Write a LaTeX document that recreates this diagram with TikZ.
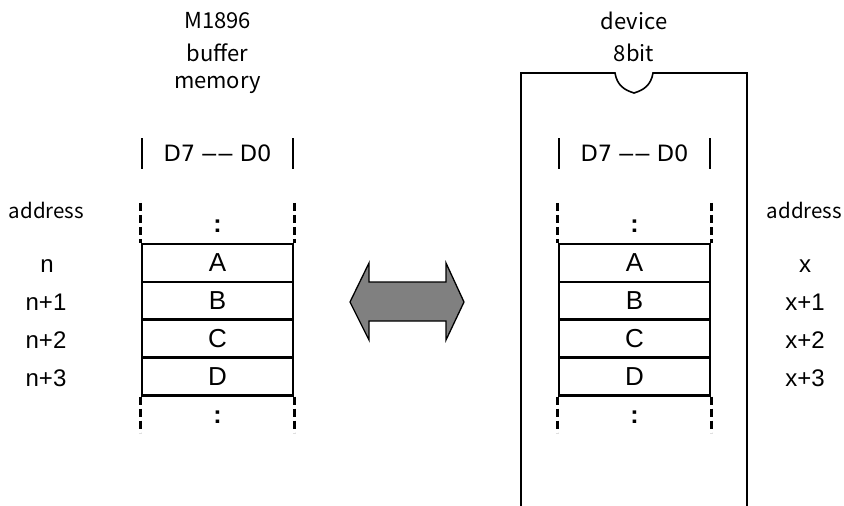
\documentclass[tikz,border=0pt]{standalone}
\usepackage{fontspec}
\setmainfont{Liberation Sans}
\newfontfamily\jpfont{Noto Sans CJK JP}
\newfontfamily\dvfont{DejaVu Sans}
\newcommand{\ddash}{{\rmfamily\fontsize{25}{25}\selectfont\char"2013\hspace{2.5pt}\char"2013}}
\begin{document}
\begin{tikzpicture}[x=1pt,y=-1pt,
  cell/.style={draw,line width=2.6pt,minimum width=151pt,minimum height=37.8pt,inner sep=0pt,font=\fontsize{26}{26}\selectfont},
  lbl/.style={inner sep=0pt,font=\fontsize{24}{24}\selectfont},
  hdr/.style={inner sep=0pt,font=\dvfont\fontsize{22.5}{22.5}\selectfont},
  colon/.style={inner sep=0pt,font=\bfseries\fontsize{25}{25}\selectfont},
  small/.style={inner sep=0pt,font=\jpfont\fontsize{20.5}{20.5}\selectfont},
  head/.style={inner sep=0pt,font=\jpfont\fontsize{22}{22}\selectfont},
  dashline/.style={line width=2.6pt,dash pattern=on 8pt off 4pt},
  bar/.style={line width=1.4pt}]
\useasboundingbox (0,0) rectangle (844,506);

% ---------- device box ----------
\draw[line width=1.6pt] (521,506) -- (521,73) -- (615,73)
  .. controls (617,85) and (624,90) .. (634,93)
  .. controls (644,90) and (651,85) .. (653,73) -- (747,73) -- (747,506);

% ---------- headers ----------
\node[head] (h1) at (217.5,21) {M1896};
\node[head] (h2) at (217.5,53) {buffer};
\node[head] (h3) at (217.5,85) {memory};
\node[head] (d1) at (634,21) {device};
\node[head] (d2) at (634,53) {8bit};

% ---------- left table ----------
\node[hdr] (LD) at (217.5,153) {D7 \ddash{} D0};
\draw[bar] (142,138) -- (142,169);
\draw[bar] (293,138) -- (293,169);
\node[cell] (LA) at (217.5,263) {A};
\node[cell] (LB) at (217.5,300.8) {B};
\node[cell] (LC) at (217.5,338.6) {C};
\node[cell] (LDd) at (217.5,376.4) {D};
\draw[dashline] (LA.north west) ++(0,-40) -- (LA.north west);
\draw[dashline] (LA.north east) ++(0,-40) -- (LA.north east);
\draw[dashline] (LDd.south west) -- ++(0,36);
\draw[dashline] (LDd.south east) -- ++(0,36);
\node[colon] (Ltd) at (217.5,226) {:};
\node[colon] (Lbd) at (217.5,417) {:};

% ---------- right table ----------
\node[hdr] (RD) at (634.5,153) {D7 \ddash{} D0};
\draw[bar] (559,138) -- (559,169);
\draw[bar] (710,138) -- (710,169);
\node[cell] (RA) at (634.5,263) {A};
\node[cell] (RB) at (634.5,300.8) {B};
\node[cell] (RC) at (634.5,338.6) {C};
\node[cell] (RDd) at (634.5,376.4) {D};
\draw[dashline] (RA.north west) ++(0,-40) -- (RA.north west);
\draw[dashline] (RA.north east) ++(0,-40) -- (RA.north east);
\draw[dashline] (RDd.south west) -- ++(0,36);
\draw[dashline] (RDd.south east) -- ++(0,36);
\node[colon] (Rtd) at (634.5,226) {:};
\node[colon] (Rbd) at (634.5,417) {:};

% ---------- addresses ----------
\node[small] (la) at (46.5,210) {address};
\node[lbl] (l0) at (47,266) {n};
\node[lbl] (l1) at (46,302) {n+1};
\node[lbl] (l2) at (46,340) {n+2};
\node[lbl] (l3) at (46,378) {n+3};
\node[small] (ra) at (804.5,210) {address};
\node[lbl] (r0) at (805,266) {x};
\node[lbl] (r1) at (805,302) {x+1};
\node[lbl] (r2) at (805,340) {x+2};
\node[lbl] (r3) at (805,378) {x+3};

% ---------- double arrow ----------
\coordinate (AL) at (350,302);
\coordinate (AR) at (464,302);
\draw[line width=1.3pt,fill=black!50,line join=miter]
  (AL) -- (369,263) -- (369,282) -- (446,282) -- (446,263) -- (AR)
  -- (446,340) -- (446,321) -- (369,321) -- (369,340) -- cycle;
\end{tikzpicture}
\end{document}
